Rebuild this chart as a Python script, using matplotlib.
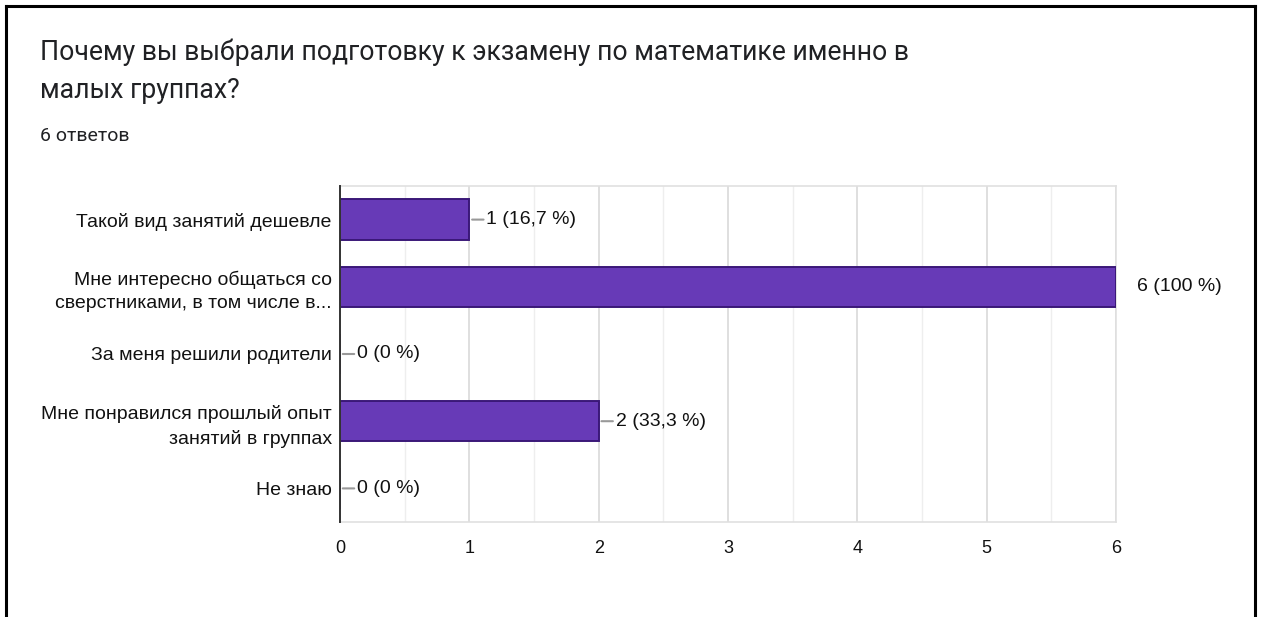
import matplotlib.pyplot as plt
from matplotlib.lines import Line2D
from matplotlib.ticker import MultipleLocator

plt.rcParams['font.family'] = ['Liberation Sans', 'DejaVu Sans']

title_lines = ["Почему вы выбрали подготовку к экзамену по математике именно в",
               "малых группах?"]
subtitle = "6 ответов"
categories = [
    "Такой вид занятий дешевле",
    "Мне интересно общаться со\nсверстниками, в том числе в...",
    "За меня решили родители",
    "Мне понравился прошлый опыт\nзанятий в группах",
    "Не знаю",
]
counts = [1, 6, 0, 2, 0]
labels = ["1 (16,7 %)", "6 (100 %)", "0 (0 %)", "2 (33,3 %)", "0 (0 %)"]
x_max = 6

fig = plt.figure(figsize=(12.64, 6.17), dpi=100)
ax = fig.add_axes([340 / 1264, 1 - 522 / 617, 776 / 1264, 336 / 617])

y = list(range(len(categories)))
ax.barh(y, counts, height=0.6, color="#673ab7", edgecolor="#3a1878", linewidth=1.4, zorder=3)

ax.set_xlim(0, x_max)
ax.set_ylim(len(categories) - 0.5, -0.5)
ax.set_yticks(y)
ax.set_yticklabels(categories, fontsize=14, color="#111111", linespacing=1.45)
ax.xaxis.set_major_locator(MultipleLocator(1))
ax.xaxis.set_minor_locator(MultipleLocator(0.5))
ax.tick_params(axis="x", labelsize=13, colors="#111111", length=0, pad=13, which="both")
ax.tick_params(axis="y", length=0, pad=6)
ax.grid(axis="x", which="major", color="#d9d9d9", linewidth=1.2, zorder=0)
ax.grid(axis="x", which="minor", color="#eeeeee", linewidth=1.0, zorder=0)

for side in ["top", "right", "bottom"]:
    ax.spines[side].set_color("#e0e0e0")
    ax.spines[side].set_linewidth(1.2)
ax.spines["left"].set_color("#333333")
ax.spines["left"].set_linewidth(1.4)
ax.spines["left"].set_zorder(4)

for i, (c, lab) in enumerate(zip(counts, labels)):
    if c >= x_max:
        ax.annotate(lab, xy=(c, i), xytext=(21, 0), textcoords="offset pixels",
                    va="center", ha="left", fontsize=14, color="#111111")
    else:
        ax.annotate(lab, xy=(c, i), xytext=(17, 0), textcoords="offset pixels",
                    va="center", ha="left", fontsize=14, color="#111111",
                    arrowprops=dict(arrowstyle="-", color="#999999", lw=1.5,
                                    shrinkA=0, shrinkB=2))

for k, line in enumerate(title_lines):
    fig.text(40 / 1264, 1 - (52 + 38 * k) / 617, line, fontsize=19.2, family=["Roboto", "DejaVu Sans"],
             color="#202124", va="center", ha="left")
fig.text(40 / 1264, 1 - 136 / 617, subtitle, fontsize=14, family=["Roboto", "DejaVu Sans"],
         color="#202124", va="center", ha="left")

# frame around the screenshot
fig.add_artist(Line2D([6 / 1264, 6 / 1264], [0, 1 - 6 / 617], transform=fig.transFigure, color="black", lw=2.2))
fig.add_artist(Line2D([6 / 1264, 1255 / 1264], [1 - 6 / 617, 1 - 6 / 617], transform=fig.transFigure, color="black", lw=2.2))
fig.add_artist(Line2D([1255 / 1264, 1255 / 1264], [0, 1 - 6 / 617], transform=fig.transFigure, color="black", lw=2.2))

fig.savefig("out.png", dpi=100)
